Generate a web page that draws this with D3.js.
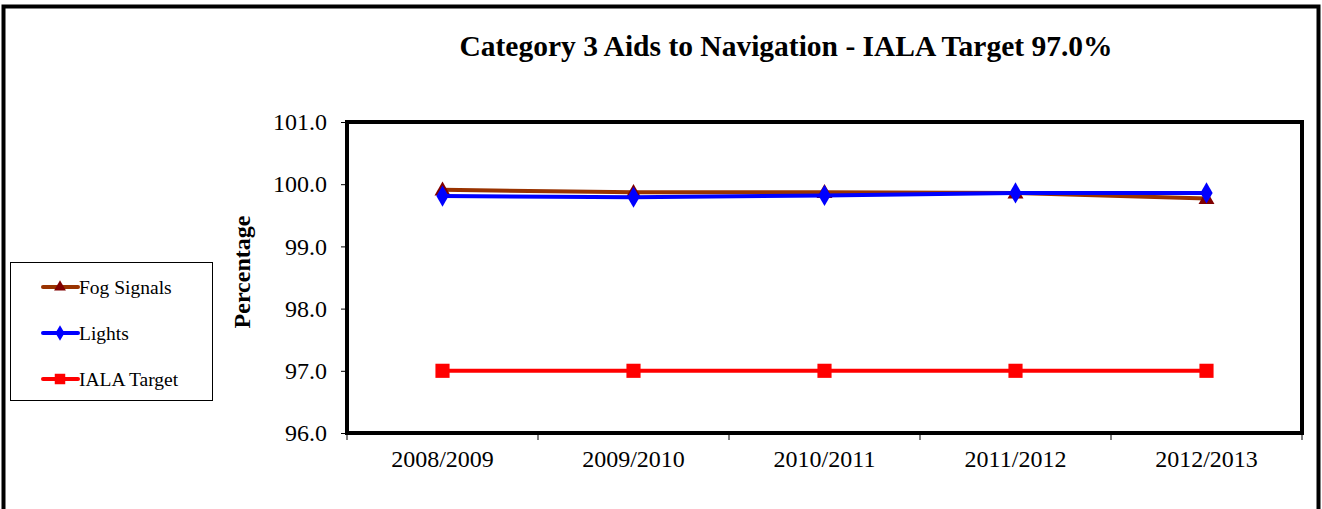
<!DOCTYPE html>
<html><head><meta charset="utf-8">
<script src="https://cdn.jsdelivr.net/npm/d3@7"></script>
<style>body{margin:0;background:#fff;}svg{display:block;font-family:"Liberation Serif","Times New Roman",serif;}</style>
</head><body>
<script>
const categories = ["2008/2009","2009/2010","2010/2011","2011/2012","2012/2013"];
const fogSignals = [99.91, 99.87, 99.87, 99.86, 99.77];
const lights = [99.81, 99.79, 99.82, 99.86, 99.86];
const ialaTarget = [97.0, 97.0, 97.0, 97.0, 97.0];
const yTicks = [96, 97, 98, 99, 100, 101];
const title = "Category 3 Aids to Navigation - IALA Target 97.0%";

const W = 1322, H = 509;
const svg = d3.select("body").append("svg").attr("width", W).attr("height", H);

// outer frame
svg.append("rect").attr("x", 3.5).attr("y", 6.5).attr("width", 1315).attr("height", 520)
  .attr("fill", "none").attr("stroke", "#000").attr("stroke-width", 4);

const pl = 347, pr = 1302, pt = 122, pb = 433;
const x = d3.scaleBand().domain(categories).range([pl, pr]);
const y = d3.scaleLinear().domain([96, 101]).range([pb, pt]);

svg.append("text").attr("x", 786).attr("y", 56).attr("text-anchor", "middle")
  .attr("font-size", 29.5).attr("font-weight", "bold").text(title);

// y axis
const yAxis = svg.append("g").attr("transform", `translate(${pl},0)`)
  .call(d3.axisLeft(y).tickValues(yTicks).tickFormat(d3.format(".1f")).tickSize(6).tickPadding(14));
yAxis.select(".domain").remove();
yAxis.selectAll("line").attr("stroke", "#000");
yAxis.selectAll("text").attr("font-size", 24).attr("font-family", "Liberation Serif").attr("fill", "#000");

// x axis ticks at band boundaries
const xAxis = svg.append("g").attr("transform", `translate(0,${pb})`)
  .call(d3.axisBottom(x).tickSize(0).tickPadding(17));
xAxis.select(".domain").remove();
xAxis.selectAll("text").attr("font-size", 24).attr("font-family", "Liberation Serif").attr("fill", "#000");
const bounds = categories.map(c => x(c)).concat([x(categories[categories.length-1]) + x.bandwidth()]);
svg.append("g").selectAll("line").data(bounds).join("line")
  .attr("x1", d => d).attr("x2", d => d).attr("y1", pb).attr("y2", pb + 7).attr("stroke", "#000");

// plot frame
svg.append("rect").attr("x", pl).attr("y", pt).attr("width", pr - pl).attr("height", pb - pt)
  .attr("fill", "none").attr("stroke", "#000").attr("stroke-width", 4);

// y label
svg.append("text").attr("transform", "translate(250,272) rotate(-90)").attr("text-anchor", "middle")
  .attr("font-size", 24).attr("font-weight", "bold").text("Percentage");

const cx = c => x(c) + x.bandwidth() / 2;
const line = d3.line().x((d, i) => cx(categories[i])).y(d => y(d));

const series = [
  {name: "IALA Target", data: ialaTarget, color: "#FF0000", mcolor: "#FF0000", sym: d3.symbolSquare, size: 200},
  {name: "Fog Signals", data: fogSignals, color: "#993300", mcolor: "#800000", sym: d3.symbolTriangle, size: 110},
  {name: "Lights", data: lights, color: "#0000FF", mcolor: "#0000FF", sym: d3.symbolDiamond, size: 130},
];

series.forEach(s => {
  svg.append("path").datum(s.data).attr("d", line).attr("fill", "none")
    .attr("stroke", s.color).attr("stroke-width", 4);
  svg.append("g").selectAll("path").data(s.data).join("path")
    .attr("d", d3.symbol().type(s.sym).size(s.size))
    .attr("transform", (d, i) => `translate(${cx(categories[i])},${y(d) + (s.sym === d3.symbolTriangle ? 1 : 0)})`)
    .attr("fill", s.mcolor);
});

// legend
svg.append("rect").attr("x", 10.5).attr("y", 262.5).attr("width", 202).attr("height", 138)
  .attr("fill", "#fff").attr("stroke", "#000").attr("stroke-width", 1);
const legendOrder = [series[1], series[2], series[0]];
const ly = [287, 333, 379];
legendOrder.forEach((s, i) => {
  const g = svg.append("g").attr("transform", `translate(0,${ly[i]})`);
  g.append("line").attr("x1", 43).attr("x2", 78).attr("y1", 0).attr("y2", 0)
    .attr("stroke", s.color).attr("stroke-width", 4).attr("stroke-linecap", "round");
  g.append("path").attr("d", d3.symbol().type(s.sym).size(s.size * 0.55)).attr("transform", "translate(60,0)")
    .attr("fill", s.mcolor);
  g.append("text").attr("x", 79).attr("y", 7).attr("font-size", 19.5).text(s.name);
});
</script>
</body></html>
